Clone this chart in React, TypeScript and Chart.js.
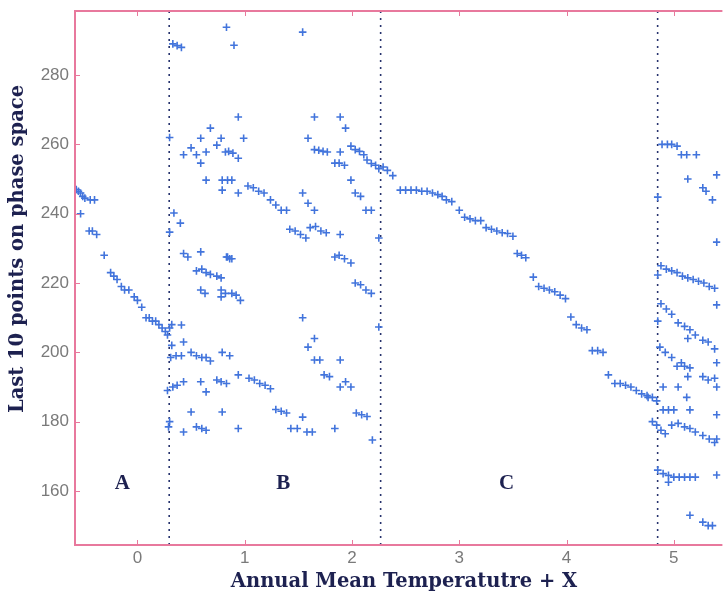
import React, { useEffect, useRef } from 'react';
import { Chart, registerables } from 'chart.js';

Chart.register(...registerables);

// Axis ranges and ticks
const X_MIN = -0.582;
const X_MAX = 5.434;
const Y_MIN = 144.4;
const Y_MAX = 298.5;
const xTicks = [0, 1, 2, 3, 4, 5];
const yTicks = [160, 180, 200, 220, 240, 260, 280];

const xTitle = 'Annual Mean Temperatutre + X';
const yTitle = 'Last 10 points on phase space';

// Region separators and labels
const separatorX = [0.296, 2.267, 4.849];
const regionLabels = ['A', 'B', 'C'];
const regionLabelX = [-0.14, 1.36, 3.44];
const regionLabelY = [162, 162, 162];

// Region A
const pointsA: [number, number][] = [
  [-0.57, 247], [-0.55, 246.5], [-0.53, 246], [-0.51, 245], [-0.49, 244.5], [-0.44, 244], [-0.4, 244],
  [-0.53, 240], [-0.45, 235], [-0.42, 235], [-0.38, 234], [-0.31, 228], [-0.25, 223], [-0.22, 222],
  [-0.19, 221], [-0.15, 219], [-0.12, 218], [-0.08, 218], [-0.03, 216], [0.0, 215], [0.04, 213],
  [0.08, 210], [0.11, 210], [0.14, 209], [0.17, 209], [0.2, 208], [0.23, 207], [0.26, 206],
  [0.28, 205], [0.3, 207], [0.32, 208],
];

// Region B
const pointsB: [number, number][] = [
  [0.83, 293.8], [0.33, 289], [0.37, 288.5], [0.41, 288], [0.68, 264.7], [0.59, 261.8], [0.78, 261.8],
  [0.3, 262], [0.5, 259], [0.43, 257], [0.55, 257], [0.64, 257.8], [0.74, 259.8], [0.82, 257.8],
  [0.59, 254.6], [0.64, 249.7], [0.79, 249.7], [0.79, 246.8], [0.34, 240.2], [0.4, 237.3], [0.3, 234.7],
  [0.43, 228.5], [0.47, 227.5], [0.59, 229], [0.83, 227.5], [0.86, 227], [0.55, 223.5], [0.6, 224],
  [0.64, 223], [0.68, 222.5], [0.74, 222], [0.78, 221.5], [0.59, 218], [0.63, 217], [0.78, 216],
  [0.78, 218], [0.41, 207.9], [0.32, 202], [0.43, 203], [0.31, 198.5], [0.36, 199], [0.41, 199],
  [0.5, 200], [0.55, 199], [0.6, 198.5], [0.64, 198.5], [0.68, 197.5], [0.79, 200], [0.28, 189],
  [0.33, 190], [0.37, 190.5], [0.43, 191.5], [0.59, 191.5], [0.64, 188.6], [0.74, 192], [0.78, 191.5],
  [0.83, 191], [0.5, 182.8], [0.79, 182.8], [0.43, 177], [0.55, 178.5], [0.6, 178], [0.64, 177.5],
  [0.29, 178.5], [0.3, 180],
  [0.9, 288.6], [1.54, 292.4], [0.94, 267.9], [1.65, 267.9], [1.89, 267.9], [0.99, 261.8], [1.94, 264.7],
  [1.59, 261.8], [0.85, 258], [0.89, 257.5], [1.65, 258.5], [1.69, 258.3], [1.73, 258], [1.77, 257.8],
  [1.89, 257.8], [0.94, 256], [1.99, 259.5], [2.03, 258.5], [2.07, 258], [2.11, 257], [2.14, 255.5],
  [2.18, 254.5], [2.22, 254], [2.25, 253], [1.84, 254.6], [1.88, 254.6], [1.93, 254], [0.84, 249.7],
  [0.88, 249.7], [1.99, 249.7], [1.03, 248], [1.08, 247.5], [1.13, 246.5], [1.18, 246], [0.94, 246],
  [1.24, 244], [1.29, 242.5], [1.34, 241], [1.39, 241], [1.54, 246], [1.59, 243], [1.65, 241],
  [2.03, 246], [2.08, 245], [2.13, 241], [2.18, 241], [1.42, 235.5], [1.47, 235], [1.52, 234],
  [1.57, 233], [1.61, 236], [1.66, 236.3], [1.71, 235], [1.76, 234.5], [1.89, 234], [2.25, 233],
  [0.84, 227.5], [0.88, 227], [1.84, 227.5], [1.88, 228], [1.93, 227], [1.99, 225.8], [0.82, 217],
  [0.88, 217], [0.92, 216.5], [0.96, 215], [2.03, 220], [2.08, 219.5], [2.13, 218], [2.18, 217],
  [1.54, 210], [1.65, 204], [1.59, 201.5], [2.25, 207.3], [1.65, 197.8], [1.7, 197.8], [1.89, 197.8],
  [0.86, 199], [1.74, 193.5], [1.79, 193], [1.94, 191.5], [1.89, 190], [1.99, 190], [0.94, 193.5],
  [1.04, 192.5], [1.09, 192], [1.14, 191], [1.19, 190.5], [1.24, 189.5], [1.29, 183.5], [1.34, 183],
  [1.39, 182.5], [1.54, 181.3], [2.04, 182.5], [2.09, 182], [2.14, 181.5], [0.94, 178], [1.43, 178],
  [1.49, 178], [1.58, 177], [1.63, 177], [1.84, 178], [2.19, 174.7],
];

// Region C
const pointsC: [number, number][] = [
  [2.29, 253.5], [2.33, 252.5], [2.38, 251], [2.45, 246.8], [2.5, 246.8], [2.55, 246.8], [2.6, 246.8],
  [2.65, 246.5], [2.7, 246.5], [2.75, 246], [2.8, 245.5], [2.84, 245], [2.88, 244], [2.93, 243.5],
  [3.0, 241], [3.05, 239], [3.1, 238.5], [3.15, 238], [3.2, 238], [3.25, 236], [3.3, 235.5],
  [3.35, 235], [3.4, 234.5], [3.45, 234.3], [3.5, 233.5], [3.54, 228.5], [3.58, 228], [3.62, 227.3],
  [3.69, 221.7], [3.74, 219], [3.79, 218.5], [3.84, 218], [3.89, 217.5], [3.94, 216.5], [3.99, 215.5],
  [4.04, 210.2], [4.09, 208], [4.14, 207], [4.19, 206.5], [4.24, 200.5], [4.29, 200.5], [4.34, 200],
  [4.39, 193.5], [4.45, 191], [4.5, 191], [4.55, 190.5], [4.6, 190], [4.65, 189], [4.7, 188],
  [4.75, 187.5], [4.8, 187], [4.84, 186],
];

// Region D
const pointsD: [number, number][] = [
  [4.89, 260], [4.94, 260], [4.98, 260], [5.03, 259.5], [5.07, 257], [5.12, 257], [5.21, 257],
  [5.4, 251.2], [5.13, 250], [5.27, 247.5], [5.3, 246.5], [5.36, 244], [4.85, 244.8], [5.4, 231.8],
  [4.88, 225], [4.93, 224], [4.98, 223.5], [5.03, 223], [5.08, 222], [5.13, 221.5], [5.18, 221],
  [5.23, 220.5], [5.28, 220], [5.33, 219], [5.38, 218.5], [4.85, 222.3], [4.88, 214], [4.93, 212.5],
  [4.98, 211], [5.04, 208.5], [5.1, 207.5], [5.15, 206.5], [5.2, 205], [5.13, 204], [5.27, 203.5],
  [5.32, 203], [5.38, 201], [4.85, 209], [5.4, 213.7], [4.87, 201.5], [4.92, 200], [4.98, 198.5],
  [5.03, 196], [5.07, 197], [5.1, 196], [5.15, 195.5], [5.13, 193], [5.27, 193], [5.32, 192],
  [5.38, 192.5], [5.4, 197], [4.9, 190], [5.04, 190], [5.12, 187], [5.4, 190], [4.76, 187],
  [4.9, 183.4], [4.95, 183.4], [5.0, 183.4], [5.15, 183.4], [5.4, 182], [4.8, 180], [4.84, 179],
  [4.88, 177.5], [4.92, 176.5], [4.98, 179], [5.04, 179.5], [5.1, 178.5], [5.15, 178], [5.2, 177],
  [5.27, 176], [5.33, 175], [5.38, 174], [5.4, 175], [4.85, 166], [4.9, 165], [4.95, 164.5],
  [5.0, 164], [5.05, 164], [5.1, 164], [5.15, 164], [5.2, 164], [4.95, 162.5], [5.4, 164.6],
  [5.15, 153], [5.27, 151], [5.32, 150], [5.36, 150],
];

const POINT_COLOR = '#4274dc';
const FRAME_COLOR = '#e8799d';
const TITLE_COLOR = '#1d2150';
const TICK_COLOR = '#7a7a7a';
const SEP_COLOR = '#27336e';

const framePlugin = {
  id: 'framePlugin',
  afterDraw(chart: any) {
    const { ctx, chartArea } = chart;
    const { left, right, top, bottom } = chartArea;
    const xs = chart.scales.x;
    const ys = chart.scales.y;
    ctx.save();
    // frame
    ctx.strokeStyle = FRAME_COLOR;
    ctx.lineWidth = 2;
    ctx.beginPath();
    ctx.moveTo(right + 2, top);
    ctx.lineTo(left, top);
    ctx.lineTo(left, bottom);
    ctx.lineTo(right + 2, bottom);
    ctx.stroke();
    // inward ticks
    ctx.lineWidth = 1;
    ctx.beginPath();
    xTicks.forEach((v) => {
      const px = Math.round(xs.getPixelForValue(v)) + 0.5;
      ctx.moveTo(px, bottom);
      ctx.lineTo(px, bottom - 5);
      ctx.moveTo(px, top);
      ctx.lineTo(px, top + 5);
    });
    yTicks.forEach((v) => {
      const py = Math.round(ys.getPixelForValue(v)) + 0.5;
      ctx.moveTo(left, py);
      ctx.lineTo(left + 5, py);
    });
    ctx.stroke();

    // region labels
    ctx.fillStyle = TITLE_COLOR;
    ctx.font = 'bold 21px "Liberation Serif", "Times New Roman", serif';
    ctx.textAlign = 'center';
    ctx.textBaseline = 'middle';
    regionLabels.forEach((t, i) => {
      ctx.fillText(t, xs.getPixelForValue(regionLabelX[i]), ys.getPixelForValue(regionLabelY[i]));
    });

    // axis titles
    ctx.font = 'bold 19.5px "DejaVu Serif", serif';
    ctx.fillText(xTitle, 404, 582);
    ctx.translate(18, 249);
    ctx.rotate(-Math.PI / 2);
    ctx.fillText(yTitle, 0, 0);
    ctx.restore();
  },
};

const toXY = (pts: [number, number][]) => pts.map(([x, y]) => ({ x, y }));

export default function App() {
  const ref = useRef<HTMLCanvasElement | null>(null);

  useEffect(() => {
    if (!ref.current) return;
    const pointDs = (pts: [number, number][]) => ({
      type: 'scatter' as const,
      data: toXY(pts),
      pointStyle: 'cross',
      pointRadius: 3.8,
      pointBorderWidth: 1.6,
      borderColor: POINT_COLOR,
      backgroundColor: POINT_COLOR,
      showLine: false,
    });
    const sepDs = separatorX.map((sx) => ({
      type: 'line' as const,
      data: [
        { x: sx, y: Y_MIN },
        { x: sx, y: Y_MAX },
      ],
      borderColor: SEP_COLOR,
      borderWidth: 1.6,
      borderDash: [2, 5],
      pointRadius: 0,
      fill: false,
    }));
    const chart = new Chart(ref.current, {
      type: 'scatter',
      data: {
        datasets: [pointDs(pointsA), pointDs(pointsB), pointDs(pointsC), pointDs(pointsD), ...sepDs] as any,
      },
      options: {
        animation: false,
        responsive: true,
        maintainAspectRatio: false,
        layout: { padding: { top: 11, left: 0, right: 0, bottom: 0 } },
        plugins: { legend: { display: false }, tooltip: { enabled: false } },
        scales: {
          x: {
            type: 'linear',
            min: X_MIN,
            max: X_MAX,
            afterBuildTicks: (s: any) => {
              s.ticks = xTicks.map((v) => ({ value: v }));
            },
            afterFit: (s: any) => {
              s.height = 53;
              s.paddingLeft = 0;
              s.paddingRight = 0;
            },
            grid: { display: false, drawTicks: false },
            border: { display: false },
            ticks: {
              color: TICK_COLOR,
              padding: 3,
              maxRotation: 0,
              font: { family: '"Liberation Sans", Arial, sans-serif', size: 17 },
            },
          },
          y: {
            type: 'linear',
            min: Y_MIN,
            max: Y_MAX,
            afterBuildTicks: (s: any) => {
              s.ticks = yTicks.map((v) => ({ value: v }));
            },
            afterFit: (s: any) => {
              s.width = 75;
              s.paddingTop = 0;
              s.paddingBottom = 0;
            },
            grid: { display: false, drawTicks: false },
            border: { display: false },
            ticks: {
              color: TICK_COLOR,
              padding: 6,
              font: { family: '"Liberation Sans", Arial, sans-serif', size: 17 },
            },
          },
        },
      },
      plugins: [framePlugin],
    });
    return () => chart.destroy();
  }, []);

  return (
    <div style={{ position: 'fixed', left: 0, top: 0, width: 726, height: 598, background: '#fff' }}>
      <canvas ref={ref} />
    </div>
  );
}
